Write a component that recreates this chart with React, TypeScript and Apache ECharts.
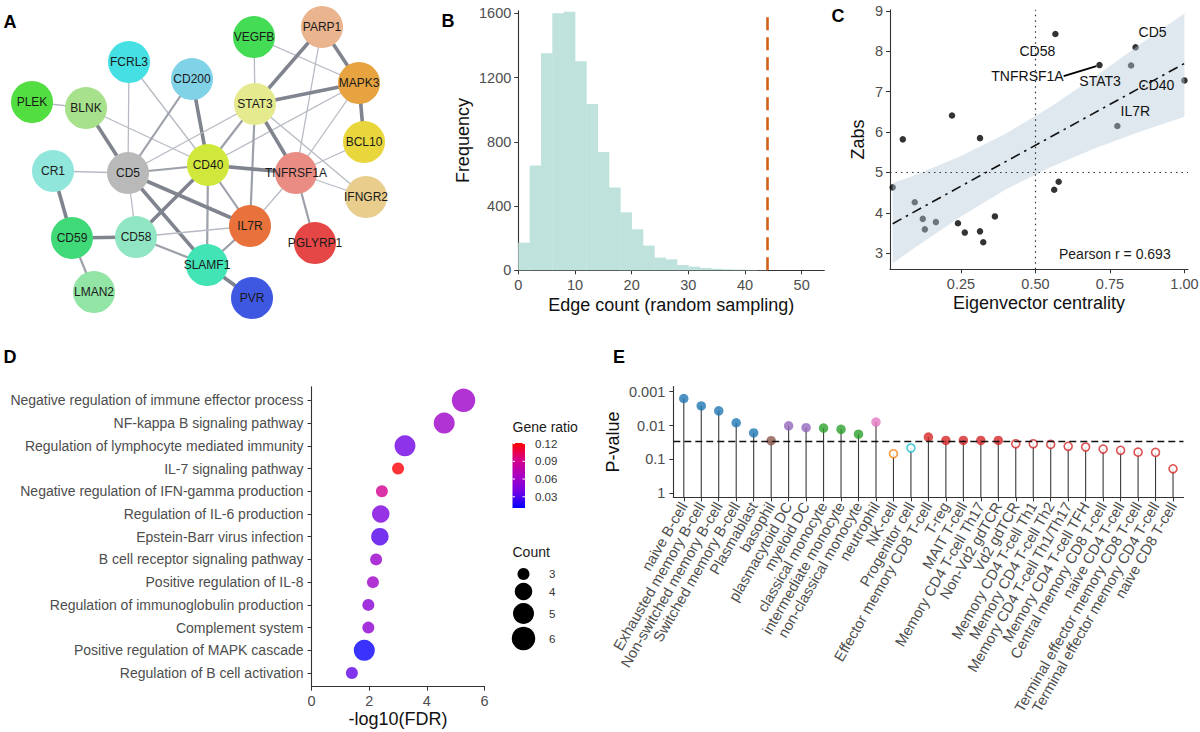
import React, { useEffect, useRef } from 'react';
import * as echarts from 'echarts';

/* ---------------- Panel A : PPI network ---------------- */
const nodeNames = ['PARP1', 'VEGFB', 'FCRL3', 'CD200', 'MAPK3', 'PLEK', 'BLNK', 'STAT3', 'BCL10', 'CR1', 'CD5', 'CD40', 'TNFRSF1A', 'IFNGR2', 'CD59', 'CD58', 'IL7R', 'PGLYRP1', 'SLAMF1', 'LMAN2', 'PVR'];
const nodeLayoutX = [322, 254, 129, 192, 359, 32, 86, 255, 364, 53, 128, 208, 296, 366, 72, 136, 250, 315, 207, 94, 252];
const nodeLayoutY = [27, 37, 62, 79, 83, 102, 108, 104, 142, 171, 173, 165, 173, 197, 238, 237, 226, 243, 265, 292, 298];
const nodeColors = ['#e9b48e', '#45dc55', '#45e0e4', '#80d2e6', '#e7a33f', '#52de40', '#a8e18c', '#e5ea8e', '#e8d63c', '#90e6da', '#b9b9b9', '#d0e83c', '#e98d84', '#e8cd8c', '#40d978', '#90e6c3', '#e9723c', '#e54646', '#42e4b6', '#92e5a4', '#3f58e2'];
const edges: [string, string, number][] = [
  ['PLEK', 'BLNK', 1], ['BLNK', 'CD5', 3], ['BLNK', 'CD40', 1], ['FCRL3', 'CD5', 1], ['FCRL3', 'CD40', 1],
  ['CD200', 'CD5', 2], ['CD200', 'CD40', 3], ['VEGFB', 'STAT3', 1], ['VEGFB', 'MAPK3', 1], ['PARP1', 'STAT3', 3],
  ['PARP1', 'MAPK3', 3], ['PARP1', 'TNFRSF1A', 1], ['MAPK3', 'STAT3', 3], ['MAPK3', 'BCL10', 3], ['MAPK3', 'CD40', 1],
  ['MAPK3', 'TNFRSF1A', 1], ['STAT3', 'CD40', 2], ['STAT3', 'CD5', 1], ['STAT3', 'IL7R', 2], ['STAT3', 'TNFRSF1A', 3],
  ['STAT3', 'IFNGR2', 1], ['BCL10', 'TNFRSF1A', 1], ['TNFRSF1A', 'IFNGR2', 1], ['TNFRSF1A', 'PGLYRP1', 2], ['TNFRSF1A', 'IL7R', 1],
  ['CD40', 'TNFRSF1A', 3], ['CD40', 'CD5', 2], ['CD40', 'IL7R', 2], ['CD40', 'SLAMF1', 2], ['CD40', 'CD58', 3],
  ['CD5', 'CR1', 1], ['CD5', 'CD58', 1], ['CD5', 'IL7R', 3], ['CD5', 'SLAMF1', 3], ['CR1', 'CD59', 3],
  ['CD59', 'CD58', 3], ['CD59', 'LMAN2', 2], ['CD58', 'IL7R', 1], ['CD58', 'SLAMF1', 2], ['SLAMF1', 'IL7R', 2], ['SLAMF1', 'PVR', 3],
];

/* ---------------- Panel B : random sampling histogram ---------------- */
const binStarts = [0, 2, 4, 6, 8, 10, 12, 14, 16, 18, 20, 22, 24, 26, 28, 30, 32, 34, 36, 38, 40, 42];
const binCounts = [172, 652, 1351, 1600, 1610, 1301, 1036, 737, 515, 361, 255, 154, 79, 68, 33, 23, 15, 10, 6, 4, 2, 1];
const binWidth = 2;
const observedEdgeCount = 44;
const histXTicks = [0, 10, 20, 30, 40, 50];
const histYTicks = [0, 400, 800, 1200, 1600];

/* ---------------- Panel C : centrality vs Zabs ---------------- */
const centrality = [0.567, 0.836, 0.715, 0.821, 1.0, 0.775, 0.22, 0.055, 0.314, 0.021, 0.578, 0.563, 0.095, 0.122, 0.166, 0.129, 0.24, 0.263, 0.314, 0.325, 0.364];
const zabs = [8.43, 8.1, 7.66, 7.65, 7.28, 6.15, 6.41, 5.82, 5.85, 4.63, 4.77, 4.57, 4.26, 3.85, 3.77, 3.59, 3.74, 3.51, 3.54, 3.27, 3.91];
const pointGenes = ['CD58', 'CD5', 'TNFRSF1A', 'STAT3', 'CD40', 'IL7R', '', '', '', '', '', '', '', '', '', '', '', '', '', '', ''];
const fitX = [0.021, 1.0];
const fitY = [3.73, 7.7];
const bandX = [0.021, 0.1, 0.25, 0.4, 0.55, 0.7, 0.85, 1.0];
const bandLo = [2.75, 3.16, 3.91, 4.58, 5.13, 5.6, 6.01, 6.38];
const bandHi = [4.73, 4.94, 5.41, 5.96, 6.62, 7.37, 8.17, 8.94];
const pearsonR = 0.693;
const centralityCut = 0.5;
const zabsCut = 5;
const centralityTicks = [0.25, 0.5, 0.75, 1.0];
const zabsTicks = [3, 4, 5, 6, 7, 8, 9];

/* ---------------- Panel D : enrichment dot plot ---------------- */
const terms = [
  'Negative regulation of immune effector process',
  'NF-kappa B signaling pathway',
  'Regulation of lymphocyte mediated immunity',
  'IL-7 signaling pathway',
  'Negative regulation of IFN-gamma production',
  'Regulation of IL-6 production',
  'Epstein-Barr virus infection',
  'B cell receptor signaling pathway',
  'Positive regulation of IL-8',
  'Regulation of immunoglobulin production',
  'Complement system',
  'Positive regulation of MAPK cascade',
  'Regulation of B cell activation',
];
const negLog10FDR = [5.27, 4.6, 3.24, 3.0, 2.44, 2.4, 2.37, 2.24, 2.13, 1.97, 1.97, 1.83, 1.4];
const geneRatio = [0.06, 0.06, 0.038, 0.12, 0.09, 0.044, 0.031, 0.057, 0.06, 0.05, 0.052, 0.013, 0.035];
const geneCount = [6, 5, 5, 3, 3, 4, 4, 3, 3, 3, 3, 5, 3];
const fdrTicks = [0, 2, 4, 6];
const ratioTicks = [0.03, 0.06, 0.09, 0.12];
const ratioRange = [0.011, 0.121];
const countLevels = [3, 4, 5, 6];

/* ---------------- Panel E : cell-type lollipop ---------------- */
const cellTypes = [
  'naive B-cell', 'Exhausted memory B-cell', 'Non-switched memory B-cell', 'Switched memory B-cell', 'Plasmablast',
  'basophil', 'plasmacytoid DC', 'myeloid DC', 'classical monocyte', 'intermediate monocyte', 'non-classical monocyte',
  'neutrophil', 'NK-cell', 'Progenitor cell', 'Effector memory CD8 T-cell', 'T-reg', 'MAIT T-cell',
  'Memory CD4 T-cell Th17', 'Non-Vd2 gdTCR', 'Vd2 gdTCR', 'Memory CD4 T-cell Th1', 'Memory CD4 T-cell Th2',
  'Memory CD4 T-cell Th1/Th17', 'Memory CD4 T-cell TFH', 'Central memory CD8 T-cell', 'naive CD4 T-cell',
  'Terminal effector memory CD8 T-cell', 'Terminal effector memory CD4 T-cell', 'naive CD8 T-cell',
];
const cellPValues = [0.0016, 0.00265, 0.0037, 0.0083, 0.0166, 0.028, 0.0102, 0.0116, 0.0119, 0.013, 0.018, 0.0079, 0.068, 0.046, 0.022, 0.0276, 0.0276, 0.0276, 0.0276, 0.0345, 0.0345, 0.036, 0.041, 0.043, 0.0495, 0.054, 0.061, 0.062, 0.189];
const cellColors = ['#1f77b4', '#1f77b4', '#1f77b4', '#1f77b4', '#1f77b4', '#8c564b', '#9467bd', '#9467bd', '#2ca02c', '#2ca02c', '#2ca02c', '#e377c2', '#ff7f0e', '#17becf', '#d62728', '#d62728', '#d62728', '#d62728', '#d62728', '#d62728', '#d62728', '#d62728', '#d62728', '#d62728', '#d62728', '#d62728', '#d62728', '#d62728', '#d62728'];
const cellFilled = [true, true, true, true, true, true, true, true, true, true, true, true, false, false, true, true, true, true, true, false, false, false, false, false, false, false, false, false, false];
const pThreshold = 0.0287;
const pTicks = [1, 0.1, 0.01, 0.001];

/* ---------------- styles ---------------- */
const FONT = '"Liberation Sans", Arial, Helvetica, sans-serif';
const AXIS_COLOR = '#333333';
const TICK_TEXT = '#4d4d4d';
const edgeWidth = [0, 1.3, 2.2, 3.6];
const edgeColor = ['', '#b6bac3', '#9ca0aa', '#80848f'];
const countSize: Record<number, number> = { 3: 12, 4: 17.5, 5: 21, 6: 23.5 };
const ratioColors = ['#0000ff', '#7200e4', '#ab00c2', '#d80086', '#ff0000'];
const labelOffsets: Record<string, [number, number]> = {
  CD58: [-18, 17], CD5: [17, -15], TNFRSF1A: [-72, 11], STAT3: [-31, 16], CD40: [-28, 5], IL7R: [18, -15],
};

function axisBase(gridIndex: number) {
  return {
    gridIndex,
    type: 'value',
    splitLine: { show: false },
    axisLine: { show: true, onZero: false, lineStyle: { color: AXIS_COLOR, width: 1.1 } },
    axisTick: { show: true, length: 4, lineStyle: { color: AXIS_COLOR, width: 1 } },
    nameTextStyle: { fontSize: 18, color: '#111', fontFamily: FONT },
  } as any;
}
function labelStyle(extra: any = {}) {
  return { color: TICK_TEXT, fontSize: 14.5, fontFamily: FONT, margin: 7, ...extra };
}

function buildOption(): any {
  const grids = [
    { left: 0, top: 0, width: 400, height: 330 },
    { left: 518.3, top: 10.9, width: 306, height: 259.4 },
    { left: 890, top: 9.8, width: 298, height: 259.5 },
    { left: 311.5, top: 386.7, width: 173.1, height: 300 },
    { left: 673.3, top: 386.5, width: 510.2, height: 110.9 },
  ].map((g) => ({ ...g, containLabel: false, outerBoundsMode: 'none', show: false }));

  const plain = (v: number) => String(v);

  const xAxes: any[] = [
    { ...axisBase(0), min: 0, max: 400, show: false },
    {
      ...axisBase(1), min: 0, max: 54,
      axisLabel: labelStyle({ customValues: histXTicks, formatter: plain }),
      axisTick: { ...axisBase(1).axisTick, customValues: histXTicks },
      name: 'Edge count (random sampling)', nameLocation: 'middle', nameGap: 26,
    },
    {
      ...axisBase(2), min: 0.012, max: 1.012,
      axisLabel: labelStyle({ customValues: centralityTicks, formatter: (v: number) => v.toFixed(2) }),
      axisTick: { ...axisBase(2).axisTick, customValues: centralityTicks },
      name: 'Eigenvector centrality', nameLocation: 'middle', nameGap: 25,
    },
    {
      ...axisBase(3), min: 0, max: 6,
      axisLabel: labelStyle({ customValues: fdrTicks, formatter: plain }),
      axisTick: { ...axisBase(3).axisTick, customValues: fdrTicks },
      name: '-log10(FDR)', nameLocation: 'middle', nameGap: 23,
    },
    {
      ...axisBase(4), min: -0.6, max: cellTypes.length - 1 + 0.6,
      axisLabel: labelStyle({
        customValues: cellTypes.map((_, i) => i), fontSize: 14.8, rotate: 60, margin: 6,
        formatter: (v: number) => cellTypes[Math.round(v)] ?? '',
      }),
      axisTick: { ...axisBase(4).axisTick, customValues: cellTypes.map((_, i) => i) },
    },
  ];

  const pTickVals = pTicks.map((p) => -Math.log10(p) + 0);
  const yAxes: any[] = [
    { ...axisBase(0), min: 0, max: 330, inverse: true, show: false },
    {
      ...axisBase(1), min: 0, max: 1615,
      axisLabel: labelStyle({ customValues: histYTicks, formatter: plain }),
      axisTick: { ...axisBase(1).axisTick, customValues: histYTicks },
      name: 'Frequency', nameLocation: 'middle', nameGap: 46,
    },
    {
      ...axisBase(2), min: 2.6, max: 9.03,
      axisLabel: labelStyle({ customValues: zabsTicks, formatter: plain }),
      axisTick: { ...axisBase(2).axisTick, customValues: zabsTicks },
      name: 'Zabs', nameLocation: 'middle', nameGap: 23,
    },
    {
      ...axisBase(3), min: -0.6, max: terms.length - 1 + 0.6, inverse: true,
      axisLabel: labelStyle({
        customValues: terms.map((_, i) => i), fontSize: 14, margin: 8,
        formatter: (v: number) => terms[Math.round(v)] ?? '',
      }),
      axisTick: { ...axisBase(3).axisTick, customValues: terms.map((_, i) => i) },
    },
    {
      ...axisBase(4), min: -0.12, max: 3.15,
      axisLabel: labelStyle({
        customValues: pTickVals, margin: 8,
        formatter: (v: number) => {
          const i = pTickVals.findIndex((t) => Math.abs(t - v) < 1e-6);
          return i >= 0 ? String(pTicks[i]) : '';
        },
      }),
      axisTick: { ...axisBase(4).axisTick, customValues: pTickVals },
      name: 'P-value', nameLocation: 'middle', nameGap: 51,
    },
  ];

  const nodeIndex: Record<string, number> = {};
  nodeNames.forEach((n, i) => (nodeIndex[n] = i));

  const series: any[] = [];

  // A: network
  series.push({
    type: 'graph',
    coordinateSystem: 'cartesian2d',
    xAxisIndex: 0,
    yAxisIndex: 0,
    silent: true,
    symbol: 'circle',
    symbolSize: 42,
    data: nodeNames.map((n, i) => ({
      name: n,
      value: [nodeLayoutX[i], nodeLayoutY[i]],
      itemStyle: { color: nodeColors[i], borderWidth: 0 },
    })),
    links: edges.map(([s, t, w]) => ({
      source: nodeIndex[s],
      target: nodeIndex[t],
      lineStyle: { width: edgeWidth[w], color: edgeColor[w], opacity: 1, curveness: 0 },
    })),
    label: { show: true, position: 'inside', formatter: '{b}', fontSize: 12, color: '#1a1a1a', fontFamily: FONT, textBorderWidth: 0 },
    lineStyle: { opacity: 1 },
    edgeSymbol: ['none', 'none'],
  });

  // B: histogram
  series.push({
    type: 'custom',
    xAxisIndex: 1,
    yAxisIndex: 1,
    silent: true,
    data: binStarts.map((s, i) => [s, s + binWidth, binCounts[i]]),
    encode: { x: [0, 1], y: 2 },
    renderItem: (params: any, api: any) => {
      const p0 = api.coord([api.value(0), api.value(2)]);
      const p1 = api.coord([api.value(1), 0]);
      return {
        type: 'rect',
        shape: { x: p0[0], y: p0[1], width: p1[0] - p0[0] + 0.4, height: p1[1] - p0[1] },
        style: { fill: '#bfe3dc' },
      };
    },
  });
  series.push({
    type: 'line',
    xAxisIndex: 1,
    yAxisIndex: 1,
    data: [],
    silent: true,
    markLine: {
      silent: true,
      symbol: ['none', 'none'],
      label: { show: false },
      lineStyle: { color: '#d2601a', width: 2.6, type: [13, 7] },
      data: [{ xAxis: observedEdgeCount }],
    },
  });

  // C: scatter points
  series.push({
    type: 'scatter',
    xAxisIndex: 2,
    yAxisIndex: 2,
    silent: true,
    symbolSize: 6.5,
    itemStyle: { color: '#000' },
    data: centrality.map((x, i) => [x, zabs[i]]),
    z: 2,
    markLine: {
      silent: true,
      symbol: ['none', 'none'],
      label: { show: false },
      lineStyle: { color: '#333', width: 1.2, type: [1.5, 4] },
      data: [{ xAxis: centralityCut }, { yAxis: zabsCut }],
    },
  });
  // C: confidence band
  series.push({
    type: 'custom',
    xAxisIndex: 2,
    yAxisIndex: 2,
    silent: true,
    z: 3,
    data: bandX.map((x, i) => [x, bandLo[i], bandHi[i]]),
    encode: { x: 0, y: [1, 2] },
    renderItem: (params: any, api: any) => {
      if (params.dataIndex !== 0) return null;
      const upper = bandX.map((x, i) => api.coord([x, bandHi[i]]));
      const lower = bandX.map((x, i) => api.coord([x, bandLo[i]])).reverse();
      return {
        type: 'polygon',
        shape: { points: upper.concat(lower) },
        style: { fill: 'rgba(182,200,218,0.44)' },
      };
    },
  });
  // C: regression line
  series.push({
    type: 'line',
    xAxisIndex: 2,
    yAxisIndex: 2,
    silent: true,
    z: 4,
    symbol: 'none',
    data: fitX.map((x, i) => [x, fitY[i]]),
    lineStyle: { color: '#111', width: 1.6, type: [10, 5, 2.5, 5] },
  });
  // C: gene labels
  const labeledIdx = pointGenes.map((g, i) => (g ? i : -1)).filter((i) => i >= 0);
  series.push({
    type: 'scatter',
    xAxisIndex: 2,
    yAxisIndex: 2,
    silent: true,
    z: 5,
    symbolSize: 6.5,
    itemStyle: { color: 'rgba(0,0,0,0)' },
    data: labeledIdx.map((i) => ({
      name: pointGenes[i],
      value: [centrality[i], zabs[i]],
      labelLine: { show: pointGenes[i] === 'TNFRSF1A' },
    })),
    label: {
      show: true, position: 'inside', formatter: '{b}', fontSize: 14, color: '#111111', fontFamily: FONT,
      textBorderWidth: 0, textBorderColor: 'transparent', opacity: 1,
    },
    labelLine: { show: false, lineStyle: { color: '#000', width: 1.8 } },
    labelLayout: (params: any) => {
      const name = pointGenes[labeledIdx[params.dataIndex]];
      const o = labelOffsets[name] || [0, 0];
      return { dx: o[0], dy: o[1] };
    },
  });

  // D: dot plot
  const dIndex = series.length;
  series.push({
    type: 'scatter',
    xAxisIndex: 3,
    yAxisIndex: 3,
    silent: true,
    data: terms.map((t, i) => [negLog10FDR[i], i, geneRatio[i], geneCount[i]]),
    symbolSize: (v: number[]) => countSize[v[3]],
  });

  // E: stems
  const eVals = cellPValues.map((p) => -Math.log10(p));
  series.push({
    type: 'custom',
    xAxisIndex: 4,
    yAxisIndex: 4,
    silent: true,
    z: 2,
    data: eVals.map((v, i) => [i, v]),
    renderItem: (params: any, api: any) => {
      const top = api.coord([api.value(0), api.value(1)]);
      const bottom = api.coord([api.value(0), -0.12]);
      return {
        type: 'line',
        shape: { x1: top[0], y1: top[1], x2: bottom[0], y2: bottom[1] },
        style: { stroke: '#3a3a3a', lineWidth: 1.1 },
      };
    },
  });
  // E: points
  series.push({
    type: 'scatter',
    xAxisIndex: 4,
    yAxisIndex: 4,
    silent: true,
    z: 3,
    data: eVals.map((v, i) => ({
      value: [i, v],
      symbolSize: cellFilled[i] ? 9.5 : 8,
      itemStyle: cellFilled[i]
        ? { color: cellColors[i], borderWidth: 0 }
        : { color: '#ffffff', borderColor: cellColors[i], borderWidth: 1.6 },
    })),
    markLine: {
      silent: true,
      symbol: ['none', 'none'],
      label: { show: false },
      lineStyle: { color: '#111', width: 1.3, type: [7, 4] },
      data: [{ yAxis: -Math.log10(pThreshold) }],
    },
  });

  /* ---------- graphic: panel letters & legends ---------- */
  const letter = (t: string, x: number, y: number) => ({
    type: 'text', x, y,
    style: { text: t, fontSize: 18, fontWeight: 'bold', fill: '#000', fontFamily: FONT, align: 'center', verticalAlign: 'middle' },
  });
  const barX = 512.5, barY = 443, barW = 12.5, barH = 65;
  const ratioToY = (r: number) => barY + barH - ((r - ratioRange[0]) / (ratioRange[1] - ratioRange[0])) * barH;
  const gradientStops = ratioColors.map((c, i) => ({ offset: 1 - i / (ratioColors.length - 1), color: c }));
  const countKeyY = [574, 591.5, 613.5, 638.5];

  const graphic: any[] = [
    letter('A', 10, 22),
    letter('B', 448, 21),
    letter('C', 838, 16),
    letter('D', 10, 357),
    letter('E', 619, 357),
    {
      type: 'text', x: 1059, y: 254,
      style: { text: `Pearson r = ${pearsonR}`, fontSize: 14, fill: '#1a1a1a', fontFamily: FONT, align: 'left', verticalAlign: 'middle' },
    },
    {
      type: 'text', x: barX, y: 427,
      style: { text: 'Gene ratio', fontSize: 14, fill: '#1a1a1a', fontFamily: FONT, align: 'left', verticalAlign: 'middle' },
    },
    {
      type: 'rect',
      shape: { x: barX, y: barY, width: barW, height: barH },
      style: { fill: { type: 'linear', x: 0, y: 0, x2: 0, y2: 1, colorStops: gradientStops.slice().sort((a, b) => a.offset - b.offset) } },
    },
    ...ratioTicks.flatMap((r) => {
      const y = ratioToY(r);
      return [
        { type: 'line', shape: { x1: barX, y1: y, x2: barX + 2.5, y2: y }, style: { stroke: '#fff', lineWidth: 1 } },
        { type: 'line', shape: { x1: barX + barW - 2.5, y1: y, x2: barX + barW, y2: y }, style: { stroke: '#fff', lineWidth: 1 } },
        {
          type: 'text', x: 535, y,
          style: { text: r.toFixed(2), fontSize: 11.5, fill: '#333', fontFamily: FONT, align: 'left', verticalAlign: 'middle' },
        },
      ];
    }),
    {
      type: 'text', x: barX, y: 552,
      style: { text: 'Count', fontSize: 14, fill: '#1a1a1a', fontFamily: FONT, align: 'left', verticalAlign: 'middle' },
    },
    ...countLevels.flatMap((c, i) => [
      { type: 'circle', shape: { cx: 523.5, cy: countKeyY[i], r: countSize[c] / 2 }, style: { fill: '#000' } },
      {
        type: 'text', x: 549, y: countKeyY[i],
        style: { text: String(c), fontSize: 11.5, fill: '#333', fontFamily: FONT, align: 'left', verticalAlign: 'middle' },
      },
    ]),
  ];

  return {
    animation: false,
    backgroundColor: '#ffffff',
    textStyle: { fontFamily: FONT },
    grid: grids,
    xAxis: xAxes,
    yAxis: yAxes,
    visualMap: [
      {
        type: 'continuous',
        show: false,
        seriesIndex: dIndex,
        dimension: 2,
        min: ratioRange[0],
        max: ratioRange[1],
        inRange: { color: ratioColors },
      },
    ],
    series,
    graphic,
  };
}

export default function App() {
  const ref = useRef<HTMLDivElement>(null);
  useEffect(() => {
    document.body.style.margin = '0';
    const chart = echarts.init(ref.current as HTMLDivElement, null, { renderer: 'svg' });
    chart.setOption(buildOption());
    return () => chart.dispose();
  }, []);
  return (
    <div
      ref={ref}
      style={{ position: 'fixed', left: 0, top: 0, width: 1200, height: 732, background: '#ffffff' }}
    />
  );
}
